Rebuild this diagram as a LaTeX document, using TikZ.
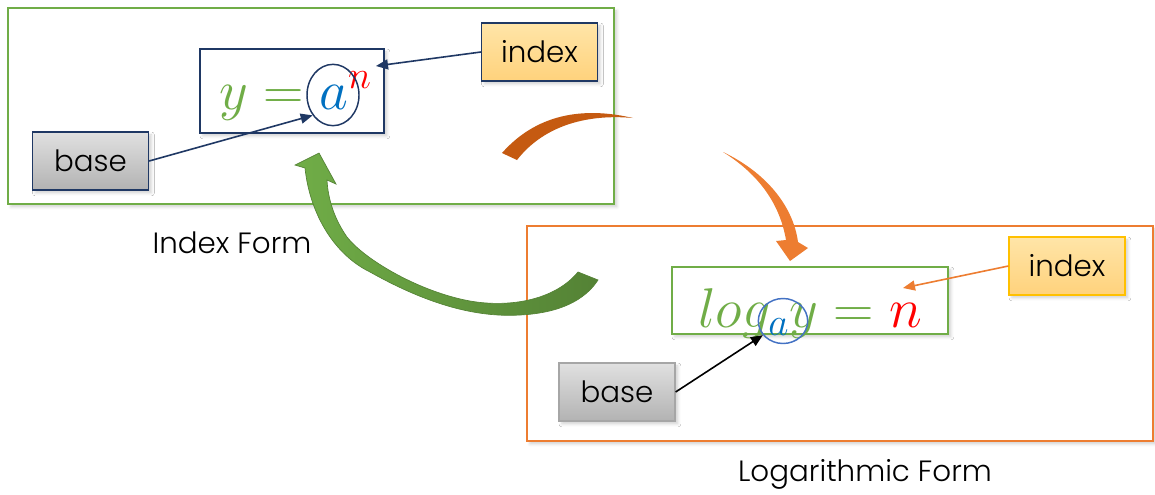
\RequirePackage{fix-cm}
\documentclass[tikz,border=0pt]{standalone}
\usepackage{fontspec}
\setmainfont{Poppins}[UprightFont={* Light}]
\usetikzlibrary{arrows.meta,shapes.geometric,shadows.blur}
\definecolor{frmGreen}{HTML}{70AD47}
\definecolor{frmGreenD}{HTML}{548235}
\definecolor{frmOrange}{HTML}{ED7D31}
\definecolor{frmOrangeD}{HTML}{C55A11}
\definecolor{frmNavy}{HTML}{1F3864}
\definecolor{frmBlue}{HTML}{0070C0}
\definecolor{frmRing}{HTML}{4472C4}
\definecolor{frmGold}{HTML}{FFC000}
\definecolor{tagTop}{HTML}{FFE5A8}
\definecolor{tagBot}{HTML}{FFD27C}
\begin{document}
\begin{tikzpicture}[x=0.75pt, y=-0.75pt,
    softshadow/.style={blur shadow={shadow xshift=2.2pt, shadow yshift=-2.2pt, shadow blur radius=2.2pt, shadow opacity=18}},
    frame/.style={draw, fill=white, line width=1.5pt, softshadow},
    tagbox/.style={draw, line width=0.9pt, minimum width=87pt, minimum height=43.5pt, font=\fontsize{22}{26}\selectfont, softshadow},
    ptr/.style={line width=1.2pt, -{Triangle[length=9pt, width=7.5pt]}},
    eqfont/.style={font=\fontsize{42}{50}\selectfont, anchor=base west, inner sep=0pt}]
    \useasboundingbox (0,0) rectangle (1155,494);

    \node[frame, draw=frmGreen, minimum width=454.5pt, minimum height=147pt] at (311,106) (idxFrame) {};
    \node[frame, draw=frmOrange, minimum width=469.5pt, minimum height=161.25pt] at (840,333.5) (logFrame) {};
    \node[font=\fontsize{22}{26}\selectfont] at (232,243) (idxTitle) {Index Form};
    \node[font=\fontsize{22}{26}\selectfont] at (865,474) (logTitle) {Logarithmic Form};

    \node[draw=frmNavy, fill=white, line width=1.1pt, minimum width=138pt, minimum height=63pt, softshadow] at (292,91) (idxEqBox) {};
    \node[draw=frmGreen, fill=white, line width=1.1pt, minimum width=207pt, minimum height=50.25pt, softshadow] at (810,300.5) (logEqBox) {};

    \node[eqfont] at (219,109) (idxEq) {$\color{frmGreen}y=\color{frmBlue}a^{\color{red}n}$};
    \node[eqfont] at (698,327) (logEq) {$\color{frmGreen}log_{\color{frmBlue}a}y=\color{red}n$};
    \node[ellipse, draw=frmNavy, line width=1.1pt, minimum width=39pt, minimum height=46pt, inner sep=0pt] at (333,95) (idxRing) {};
    \node[ellipse, draw=frmRing, line width=1.1pt, minimum width=37pt, minimum height=33.75pt, inner sep=0pt] at (783,321) (logRing) {};

    \node[tagbox, draw=frmNavy, top color=tagTop, bottom color=tagBot] at (539.5,52) (idxIndex) {index};
    \node[tagbox, draw=frmNavy, top color=black!12, bottom color=black!30] at (90.5,161) (idxBase) {base};
    \node[tagbox, draw=frmGold, top color=tagTop, bottom color=tagBot] at (1067,266) (logIndex) {index};
    \node[tagbox, draw=black!35, top color=black!12, bottom color=black!30] at (617,392) (logBase) {base};

    \coordinate (idxTip) at (376,66);
    \coordinate (logTip) at (903,288);
    \draw[ptr, frmNavy] (idxIndex.west) -- (idxTip);
    \draw[ptr, frmNavy] (idxBase.east) -- (idxRing.225);
    \draw[ptr, frmOrange] (logIndex.west) -- (logTip);
    \draw[ptr, black] (logBase.east) -- (logRing.215);

    \fill[frmOrangeD] (502,153) .. controls (540,110) and (590,108) .. (633,118) .. controls (590,114) and (545,124) .. (517,160) -- cycle;
    \fill[frmOrange] (723,152) .. controls (765,172) and (793,205) .. (798,242) -- (808,248) -- (790,261) -- (776,241) -- (786,240) .. controls (780,205) and (760,175) .. (723,152) -- cycle;
    \shadedraw[left color=frmGreen, right color=frmGreenD, draw=frmGreenD, line width=0.5pt] (578,272) .. controls (555,300) and (510,308) .. (470,301) .. controls (420,292) and (365,260) .. (347,237) .. controls (335,220) and (328,200) .. (327,180) -- (336,184) -- (319,153) -- (295,165) -- (305,168) .. controls (310,215) and (335,255) .. (370,272) .. controls (420,300) and (470,318) .. (520,315) .. controls (560,313) and (585,300) .. (598,280) -- cycle;
\end{tikzpicture}
\end{document}
